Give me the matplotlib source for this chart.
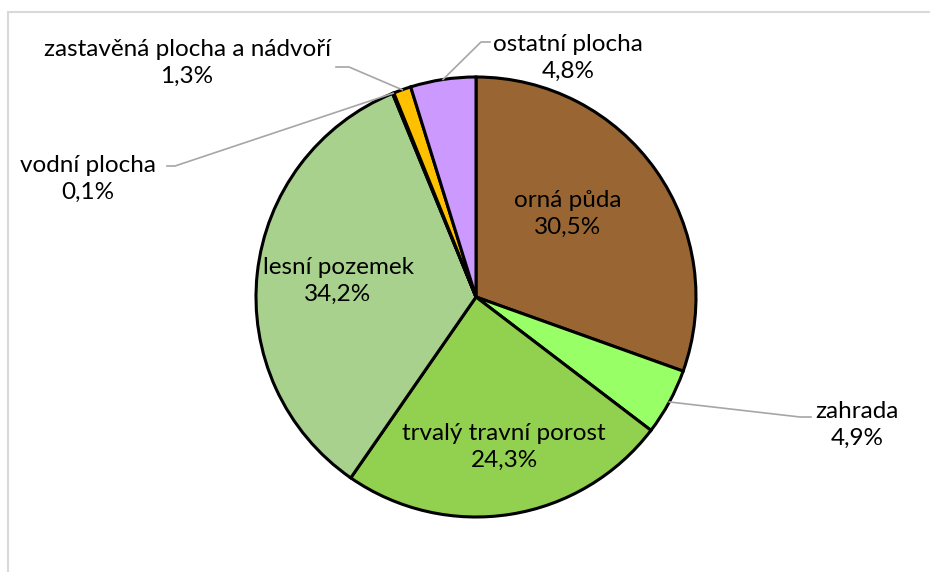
import matplotlib

matplotlib.use("Agg")
import matplotlib.pyplot as plt
import numpy as np
from matplotlib.patches import Rectangle

# data
categories = [
    "orná půda",
    "zahrada",
    "trvalý travní porost",
    "lesní pozemek",
    "vodní plocha",
    "zastavěná plocha a nádvoří",
    "ostatní plocha",
]
shares = [30.5, 4.9, 24.3, 34.2, 0.1, 1.3, 4.8]
colors = ["#996633", "#99FF66", "#92D050", "#A9D18E", "#5B9BD5", "#FFC000", "#CC99FF"]

W, H = 930, 572
CX, CY, R = 476, H - 297, 220

# label centres (pixel coords, y down) and leader elbows for the outside ones
label_pos = {
    "orná půda": (568, 214),
    "zahrada": (857, 425),
    "trvalý travní porost": (504, 447),
    "lesní pozemek": (338, 281),
    "vodní plocha": (88, 179),
    "zastavěná plocha a nádvoří": (187, 63),
    "ostatní plocha": (568, 58),
}
leaders = {
    "zahrada": [(800, 417), (811, 417)],
    "vodní plocha": [(175, 166), (167, 166)],
    "zastavěná plocha a nádvoří": [(349, 67), (336, 67)],
    "ostatní plocha": [(481, 42), (490, 42)],
}

plt.rcParams["font.family"] = ["Lato", "DejaVu Sans"]

fig = plt.figure(figsize=(W / 100, H / 100), dpi=100)
ax = fig.add_axes([0, 0, 1, 1])

wedges, _ = ax.pie(
    shares,
    colors=colors,
    startangle=90,
    counterclock=False,
    center=(CX, CY),
    radius=R,
    wedgeprops=dict(edgecolor="black", linewidth=2.2),
)

for w, name, val in zip(wedges, categories, shares):
    txt = f"{name}\n{val:.1f}".replace(".", ",") + "%"
    lx, ly = label_pos[name]
    ax.text(lx, H - ly, txt, ha="center", va="center", fontsize=17.5,
            linespacing=1.36, color="#000000")
    if name in leaders:
        mid = np.deg2rad((w.theta1 + w.theta2) / 2)
        pts = [(CX + R * np.cos(mid), CY + R * np.sin(mid))]
        pts += [(x, H - y) for x, y in leaders[name]]
        xs, ys = zip(*pts)
        ax.plot(xs, ys, color="#A6A6A6", lw=1.2)

ax.set_xlim(0, W)
ax.set_ylim(0, H)
ax.set_aspect("equal")
ax.axis("off")

# chart area border, partly outside the picture
fig.patches.append(Rectangle((8 / W, -0.1), 1.2, 1.1 - 12 / H, transform=fig.transFigure,
                             fill=False, edgecolor="#D9D9D9", lw=1.5))

fig.savefig("out.png", dpi=100)
plt.close(fig)
